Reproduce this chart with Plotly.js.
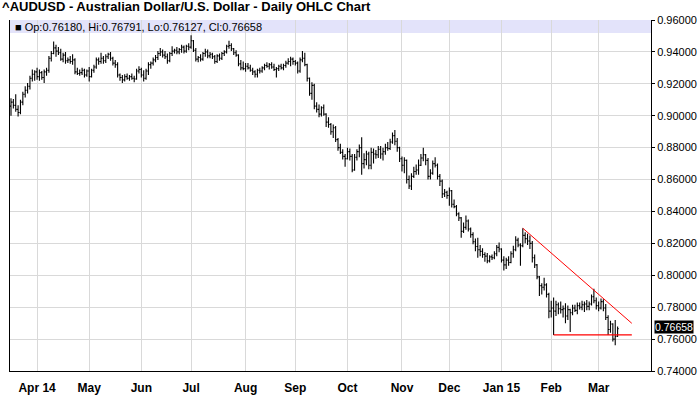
<!DOCTYPE html>
<html><head><meta charset="utf-8">
<script src="https://cdn.plot.ly/plotly-3.0.1.min.js"></script>
<style>html,body{margin:0;padding:0;background:#fff}#chart{width:700px;height:411px}</style>
</head><body><div id="chart"></div>
<script>
// Trading calendar (weekdays, without the two holidays missing from the feed)
const firstDate = '2014-03-17';
const calendarEnd = '2015-03-20';
const holidays = ['2014-12-25', '2015-01-01'];

// Month ticks (first trading day of each month) and their labels
const tickDates = ['2014-04-01','2014-05-01','2014-06-02','2014-07-01','2014-08-01','2014-09-01','2014-10-01','2014-11-03','2014-12-01','2015-01-02','2015-02-02','2015-03-02'];
const tickLabels = ['Apr 14','May','Jun','Jul','Aug','Sep','Oct','Nov','Dec','Jan 15','Feb','Mar'];

// Daily OHLC values
const opens = [
.9060,.9085,.9065,.9040,.9020, .9085,.9135,.9160,.9185,.9235, .9260,.9275,.9245,.9270,.9240,
.9275,.9285,.9360,.9390,.9425, .9405,.9395,.9355,.9380,.9345, .9350,.9340,.9350,.9275,.9265,
.9270,.9285,.9255,.9280,.9245, .9285,.9305,.9350,.9340,.9360, .9345,.9370,.9385,.9360,.9330,
.9320,.9255,.9240,.9225,.9245, .9235,.9245,.9235,.9230,.9280, .9290,.9255,.9235,.9280,.9320,
.9330,.9350,.9365,.9390,.9400, .9380,.9370,.9345,.9390,.9405, .9410,.9400,.9415,.9430,.9405,
.9435,.9430,.9470,.9410,.9355, .9365,.9355,.9390,.9400,.9375, .9385,.9370,.9340,.9375,.9360,
.9390,.9400,.9435,.9440,.9420, .9395,.9380,.9325,.9300,.9295, .9310,.9300,.9285,.9275,.9260,
.9285,.9280,.9300,.9315,.9310, .9320,.9305,.9290,.9295,.9310, .9300,.9315,.9330,.9340,.9355,
.9340,.9330,.9280,.9350,.9360, .9320,.9235,.9140,.9190,.9060, .9040,.9010,.9050,.9010,.8960,
.8945,.8900,.8925,.8850,.8800, .8770,.8745,.8730,.8775,.8745, .8660,.8740,.8775,.8800,.8700,
.8725,.8760,.8690,.8770,.8760, .8755,.8790,.8760,.8775,.8800, .8795,.8835,.8875,.8840,.8800,
.8730,.8690,.8720,.8600,.8560, .8620,.8650,.8660,.8690,.8735, .8755,.8720,.8620,.8640,.8700,
.8690,.8620,.8590,.8510,.8520, .8500,.8530,.8445,.8430,.8385, .8360,.8275,.8300,.8340,.8290,
.8255,.8210,.8180,.8160,.8150, .8130,.8120,.8090,.8115,.8110, .8135,.8175,.8165,.8095,.8065,
.8095,.8080,.8135,.8160,.8220, .8190,.8185,.8250,.8230,.8215, .8200,.8110,.8065,.7990,.7935,
.7925,.7940,.7880,.7775,.7795, .7775,.7815,.7790,.7785,.7790, .7745,.7785,.7765,.7795,.7780,
.7810,.7800,.7815,.7820,.7805, .7820,.7865,.7840,.7810,.7795, .7835,.7795,.7735,.7660,.7695,
.7600,.76180];
const highs = [
.9110,.9105,.9135,.9065,.9100, .9150,.9185,.9205,.9250,.9290, .9285,.9300,.9290,.9280,.9290,
.9300,.9375,.9405,.9465,.9445, .9430,.9420,.9395,.9400,.9365, .9375,.9385,.9360,.9300,.9290,
.9300,.9295,.9290,.9305,.9295, .9320,.9365,.9365,.9395,.9375, .9385,.9395,.9400,.9370,.9350,
.9335,.9265,.9255,.9260,.9265, .9255,.9265,.9250,.9295,.9310, .9300,.9285,.9295,.9335,.9340,
.9365,.9380,.9405,.9425,.9415, .9405,.9390,.9400,.9435,.9420, .9430,.9425,.9445,.9440,.9445,
.9455,.9505,.9475,.9425,.9375, .9385,.9400,.9420,.9415,.9400, .9395,.9380,.9385,.9390,.9400,
.9410,.9445,.9470,.9455,.9425, .9410,.9385,.9350,.9340,.9330, .9330,.9320,.9300,.9285,.9295,
.9300,.9310,.9325,.9335,.9330, .9335,.9325,.9305,.9320,.9325, .9325,.9345,.9360,.9370,.9365,
.9350,.9340,.9365,.9405,.9395, .9325,.9240,.9210,.9200,.9085, .9070,.9060,.9070,.9015,.8990,
.8955,.8945,.8935,.8860,.8825, .8790,.8760,.8800,.8795,.8760, .8760,.8790,.8820,.8865,.8765,
.8780,.8775,.8800,.8795,.8785, .8810,.8810,.8800,.8825,.8835, .8855,.8895,.8910,.8860,.8805,
.8745,.8740,.8725,.8625,.8640, .8680,.8695,.8725,.8760,.8800, .8760,.8735,.8665,.8720,.8740,
.8700,.8635,.8600,.8540,.8530, .8550,.8535,.8475,.8440,.8395, .8365,.8330,.8375,.8350,.8300,
.8270,.8230,.8235,.8190,.8170, .8145,.8140,.8125,.8130,.8150, .8190,.8205,.8170,.8120,.8110,
.8120,.8150,.8185,.8245,.8235, .8200,.8295,.8270,.8260,.8250, .8215,.8130,.8070,.7995,.7950,
.7985,.7950,.7890,.7840,.7860, .7840,.7830,.7835,.7810,.7825, .7810,.7790,.7815,.7815,.7830,
.7830,.7840,.7835,.7845,.7835, .7880,.7915,.7860,.7835,.7855, .7850,.7820,.7750,.7715,.7700,
.7720,.76791];
const lows = [
.9000,.9045,.9025,.8995,.9010, .9065,.9115,.9140,.9165,.9215, .9220,.9225,.9220,.9225,.9205,
.9250,.9270,.9340,.9385,.9370, .9380,.9345,.9335,.9325,.9330, .9325,.9320,.9260,.9255,.9250,
.9255,.9240,.9245,.9215,.9240, .9270,.9295,.9320,.9325,.9325, .9330,.9355,.9345,.9315,.9300,
.9240,.9220,.9205,.9215,.9225, .9220,.9225,.9210,.9225,.9265, .9240,.9215,.9225,.9255,.9295,
.9315,.9335,.9350,.9375,.9365, .9355,.9325,.9335,.9375,.9390, .9385,.9385,.9395,.9390,.9395,
.9410,.9420,.9400,.9340,.9335, .9340,.9345,.9370,.9360,.9360, .9355,.9325,.9330,.9345,.9350,
.9375,.9390,.9420,.9405,.9380, .9370,.9310,.9285,.9285,.9275, .9290,.9275,.9255,.9240,.9240,
.9265,.9270,.9285,.9300,.9290, .9295,.9280,.9240,.9280,.9290, .9285,.9300,.9320,.9310,.9320,
.9315,.9265,.9270,.9335,.9310, .9215,.9125,.9100,.9040,.9020, .8990,.8995,.9000,.8930,.8925,
.8880,.8860,.8835,.8780,.8760, .8725,.8680,.8725,.8720,.8645, .8655,.8720,.8740,.8630,.8670,
.8690,.8665,.8665,.8700,.8730, .8735,.8730,.8720,.8755,.8780, .8785,.8825,.8815,.8775,.8710,
.8650,.8640,.8575,.8540,.8535, .8610,.8630,.8630,.8685,.8715, .8690,.8600,.8600,.8630,.8675,
.8600,.8560,.8485,.8490,.8480, .8435,.8425,.8420,.8370,.8340, .8235,.8265,.8285,.8275,.8235,
.8195,.8150,.8110,.8120,.8110, .8085,.8075,.8080,.8095,.8100, .8120,.8145,.8080,.8030,.8040,
.8060,.8075,.8110,.8150,.8175, .8060,.8175,.8200,.8190,.8165, .8080,.8045,.7975,.7870,.7880,
.7905,.7860,.7730,.7735,.7626, .7745,.7755,.7760,.7735,.7700, .7720,.7645,.7750,.7770,.7755,
.7785,.7780,.7770,.7780,.7780, .7810,.7825,.7785,.7775,.7785, .7775,.7720,.7625,.7640,.7585,
.7561,.76127];
const closes = [
.9085,.9065,.9040,.9020,.9085, .9135,.9160,.9185,.9235,.9260, .9275,.9245,.9270,.9240,.9275,
.9285,.9360,.9390,.9425,.9405, .9395,.9355,.9380,.9345,.9350, .9340,.9350,.9275,.9265,.9270,
.9285,.9255,.9280,.9245,.9285, .9305,.9350,.9340,.9360,.9345, .9370,.9385,.9360,.9330,.9320,
.9255,.9240,.9225,.9245,.9235, .9245,.9235,.9230,.9280,.9290, .9255,.9235,.9280,.9320,.9330,
.9350,.9365,.9390,.9400,.9380, .9370,.9345,.9390,.9405,.9410, .9400,.9415,.9430,.9405,.9435,
.9430,.9470,.9410,.9355,.9365, .9355,.9390,.9400,.9375,.9385, .9370,.9340,.9375,.9360,.9390,
.9400,.9435,.9440,.9420,.9395, .9380,.9325,.9300,.9295,.9310, .9300,.9285,.9275,.9260,.9285,
.9280,.9300,.9315,.9310,.9320, .9305,.9290,.9295,.9310,.9300, .9315,.9330,.9340,.9355,.9340,
.9330,.9280,.9350,.9360,.9320, .9235,.9140,.9190,.9060,.9040, .9010,.9050,.9010,.8960,.8945,
.8900,.8925,.8850,.8800,.8770, .8745,.8730,.8775,.8745,.8660, .8740,.8775,.8800,.8700,.8725,
.8760,.8690,.8770,.8760,.8755, .8790,.8760,.8775,.8800,.8795, .8835,.8875,.8840,.8800,.8730,
.8690,.8720,.8600,.8560,.8620, .8650,.8660,.8690,.8735,.8755, .8720,.8620,.8640,.8700,.8690,
.8620,.8590,.8510,.8520,.8500, .8530,.8445,.8430,.8385,.8360, .8275,.8300,.8340,.8290,.8255,
.8210,.8180,.8160,.8150,.8130, .8120,.8090,.8115,.8110,.8135, .8175,.8165,.8095,.8065,.8095,
.8080,.8135,.8160,.8220,.8190, .8185,.8250,.8230,.8215,.8200, .8110,.8065,.7990,.7935,.7925,
.7940,.7880,.7775,.7795,.7775, .7815,.7790,.7785,.7790,.7745, .7785,.7765,.7795,.7780,.7810,
.7800,.7815,.7820,.7805,.7820, .7865,.7840,.7810,.7795,.7835, .7795,.7735,.7660,.7695,.7600,
.7618,.76658];

// Drawn study lines: falling resistance and flat support
const resistanceDates = ['2015-01-15', '2015-03-20'];
const resistanceValues = [0.8295, 0.7699];
const supportDates = ['2015-02-03', '2015-03-20'];
const supportValues = [0.7626, 0.7626];

function buildDays(start, end, skip) {
  const out = [];
  const d = new Date(start + 'T00:00:00Z');
  const e = new Date(end + 'T00:00:00Z');
  while (d <= e) {
    const w = d.getUTCDay();
    const s = d.toISOString().slice(0, 10);
    if (w !== 0 && w !== 6 && skip.indexOf(s) < 0) out.push(s);
    d.setUTCDate(d.getUTCDate() + 1);
  }
  return out;
}
const days = buildDays(firstDate, calendarEnd, holidays);
const pos = s => days.indexOf(s);
const xs = opens.map((_, i) => i);
const last = opens.length - 1;

const black = '#000000';
const traces = [
  {
    type: 'ohlc', x: xs, open: opens, high: highs, low: lows, close: closes,
    text: days.slice(0, opens.length), hoverinfo: 'skip',
    increasing: {line: {color: black, width: 1.1}},
    decreasing: {line: {color: black, width: 1.1}},
    tickwidth: 0.45
  },
  {
    type: 'scatter', mode: 'lines', x: resistanceDates.map(pos), y: resistanceValues,
    line: {color: '#ff0000', width: 1}, hoverinfo: 'skip'
  },
  {
    type: 'scatter', mode: 'lines', x: supportDates.map(pos), y: supportValues,
    line: {color: '#ff0000', width: 1.3}, hoverinfo: 'skip'
  }
];

const sans = 'Liberation Sans, Arial, Helvetica, sans-serif';
const legendText = '\u25A0 Op:' + opens[last].toFixed(5) + ', Hi:' + highs[last].toFixed(5) +
  ', Lo:' + lows[last].toFixed(5) + ', Cl:' + closes[last].toFixed(5);

const layout = {
  width: 700, height: 411,
  margin: {l: 10, r: 49, t: 20, b: 40, pad: 0},
  paper_bgcolor: '#ffffff', plot_bgcolor: '#ffffff',
  showlegend: false,
  title: {
    text: '<b>^AUDUSD - Australian Dollar/U.S. Dollar - Daily OHLC Chart</b>',
    font: {family: sans, size: 13, color: black},
    x: 0.003, xanchor: 'left', xref: 'container',
    y: 1, yanchor: 'top', yref: 'container', pad: {t: 2}
  },
  xaxis: {
    type: 'linear', range: [-0.42, 270.1],
    tickmode: 'array', tickvals: tickDates.map(pos), ticktext: tickLabels,
    showgrid: true, gridcolor: '#d9d9d9', gridwidth: 1,
    showline: true, linecolor: black, linewidth: 1,
    zeroline: false, ticks: 'outside', ticklen: 6, tickcolor: 'rgba(0,0,0,0)',
    tickfont: {family: 'Liberation Sans Narrow, Arial Narrow, Liberation Sans, Arial, sans-serif', size: 12, color: black, weight: 'bold'},
    rangeslider: {visible: false}, fixedrange: true
  },
  yaxis: {
    side: 'right', range: [0.74, 0.96], tick0: 0.74, dtick: 0.02, tickformat: '.5f',
    showgrid: true, gridcolor: '#d9d9d9', gridwidth: 1,
    showline: true, mirror: true, linecolor: black, linewidth: 1,
    zeroline: false, ticks: 'outside', ticklen: 3, tickcolor: black,
    tickfont: {family: sans, size: 11, color: black}, fixedrange: true
  },
  shapes: [{
    type: 'rect', xref: 'paper', yref: 'y', x0: 0, x1: 1, y0: 0.9518, y1: 0.96,
    fillcolor: '#e3e3fa', line: {width: 0}, layer: 'below'
  }],
  annotations: [
    {
      xref: 'paper', yref: 'y', x: 0, xanchor: 'left', xshift: 3,
      y: 0.9559, yanchor: 'middle', showarrow: false,
      text: legendText, font: {family: sans, size: 11, color: black}
    },
    {
      xref: 'paper', yref: 'y', x: 1, xanchor: 'left', xshift: 3, yshift: 2,
      y: closes[last], yanchor: 'middle', showarrow: false,
      text: closes[last].toFixed(5), bgcolor: black, borderpad: 0,
      font: {family: sans, size: 10.5, color: '#ffffff'}
    }
  ]
};

Plotly.newPlot('chart', traces, layout, {staticPlot: true, displayModeBar: false});
</script>
</body></html>
